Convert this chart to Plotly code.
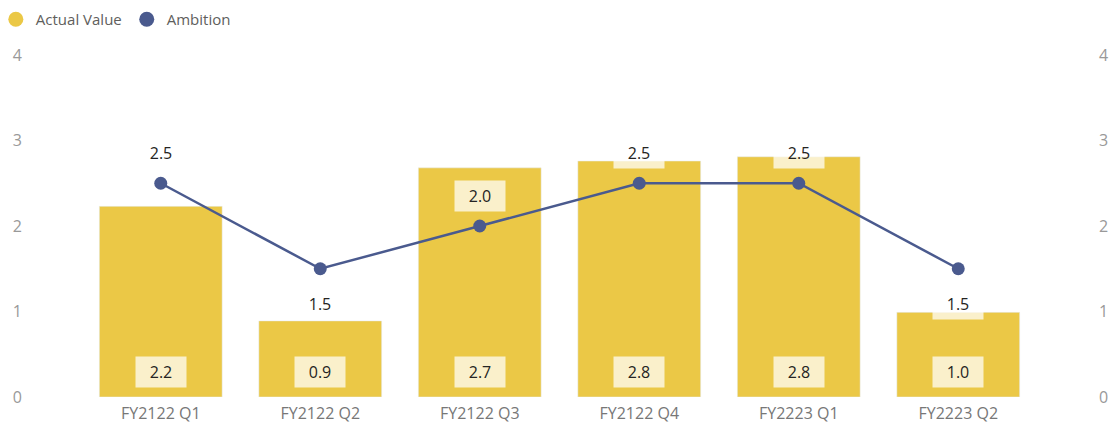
import plotly.graph_objects as go

categories = ["FY2122 Q1", "FY2122 Q2", "FY2122 Q3", "FY2122 Q4", "FY2223 Q1", "FY2223 Q2"]
actual_values = [2.23, 0.89, 2.68, 2.76, 2.81, 0.99]
ambition_values = [2.5, 1.5, 2.0, 2.5, 2.5, 1.5]
ambition_label_side = ["above", "below", "above", "above", "above", "below"]
y_ticks = [0, 1, 2, 3, 4]

BAR_COLOR = "#EBC846"
LINE_COLOR = "#4A5A8E"
FONT = "Open Sans, Segoe UI, sans-serif"

fig = go.Figure()
fig.add_trace(go.Bar(x=categories, y=actual_values, marker_color=BAR_COLOR,
                     name="Actual Value", showlegend=False, yaxis="y"))
fig.add_trace(go.Scatter(x=categories, y=ambition_values, mode="lines+markers",
                         line=dict(color=LINE_COLOR, width=2.5),
                         marker=dict(color=LINE_COLOR, size=13),
                         name="Ambition", showlegend=False, yaxis="y2"))
# legend proxies (circle icons)
fig.add_trace(go.Scatter(x=[None], y=[None], mode="markers", name="Actual Value",
                         marker=dict(color=BAR_COLOR, size=15, symbol="circle")))
fig.add_trace(go.Scatter(x=[None], y=[None], mode="markers", name="Ambition",
                         marker=dict(color=LINE_COLOR, size=15, symbol="circle")))

annotations = []
for c, v in zip(categories, actual_values):
    annotations.append(dict(x=c, y=0, xref="x", yref="y", text=f"{v:.1f}",
                            showarrow=False, yshift=25, width=48, height=28,
                            bgcolor="rgba(255,255,255,0.72)",
                            font=dict(family=FONT, size=16, color="#252423")))
for c, v, side in zip(categories, ambition_values, ambition_label_side):
    annotations.append(dict(x=c, y=v, xref="x", yref="y2", text=f"{v:.1f}",
                            showarrow=False, yshift=30 if side == "above" else -35,
                            width=48, height=28,
                            bgcolor="rgba(255,255,255,0.72)",
                            font=dict(family=FONT, size=16, color="#252423")))

fig.update_layout(
    width=1112, height=427,
    margin=dict(l=81, r=74, t=55, b=30, autoexpand=False),
    paper_bgcolor="white", plot_bgcolor="white",
    bargap=0.23,
    font=dict(family=FONT, color="#666666"),
    showlegend=True,
    legend=dict(orientation="h", xref="paper", yref="container",
                x=-0.089, y=0.993, xanchor="left", yanchor="top",
                font=dict(size=15, color="#605E5C"), itemwidth=30,
                tracegroupgap=0, bgcolor="rgba(0,0,0,0)"),
    xaxis=dict(showgrid=False, showline=False, zeroline=False, automargin=False,
               tickfont=dict(size=16, color="#777777"), ticks="", ticklabelstandoff=5),
    yaxis=dict(range=[0, 4], tickvals=y_ticks, showgrid=False, zeroline=False,
               showline=False, automargin=False, tickfont=dict(size=16, color="#999999"),
               ticklabelstandoff=58),
    yaxis2=dict(range=[0, 4], tickvals=y_ticks, overlaying="y", side="right",
                showgrid=False, zeroline=False, showline=False, automargin=False,
                tickfont=dict(size=16, color="#999999"), ticklabelstandoff=60),
    annotations=annotations,
)

fig.write_html("out.html", config={"displayModeBar": False},
               post_script="document.body.style.margin='0';document.body.style.overflow='hidden';")
